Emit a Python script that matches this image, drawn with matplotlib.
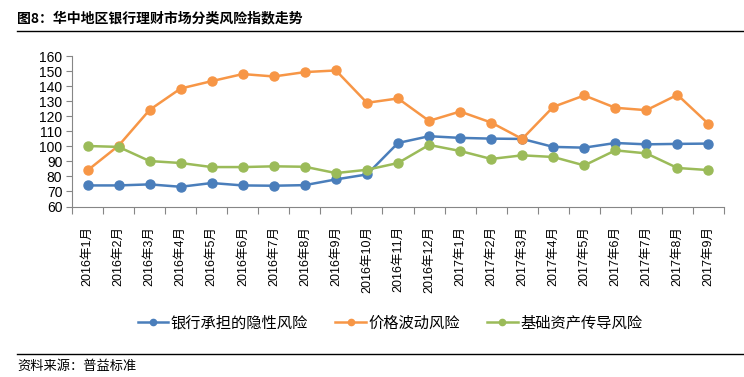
"""Redraw of figure 8: central-China bank WMP risk index trends."""
import matplotlib

matplotlib.use("Agg")
import matplotlib.pyplot as plt
from matplotlib.lines import Line2D

plt.rcParams["font.family"] = ["Liberation Sans", "Noto Sans CJK SC", "DejaVu Sans"]

MONTHS = [
    "2016年1月", "2016年2月", "2016年3月", "2016年4月", "2016年5月", "2016年6月",
    "2016年7月", "2016年8月", "2016年9月", "2016年10月", "2016年11月", "2016年12月",
    "2017年1月", "2017年2月", "2017年3月", "2017年4月", "2017年5月", "2017年6月",
    "2017年7月", "2017年8月", "2017年9月",
]
BANK_RISK = [74.0, 74.0, 74.7, 73.1, 75.6, 74.0, 73.8, 74.2, 78.0, 81.3, 102.2,
             106.7, 105.6, 105.1, 104.9, 99.6, 99.1, 102.2, 101.3, 101.6, 101.8]
PRICE_RISK = [84.0, 100.4, 124.2, 138.4, 143.3, 148.0, 146.4, 149.3, 150.4, 128.9, 131.8,
              116.9, 123.1, 115.8, 104.9, 126.2, 133.8, 125.6, 124.0, 134.2, 114.9]
ASSET_RISK = [100.2, 99.6, 90.2, 88.9, 86.2, 86.2, 86.7, 86.4, 82.2, 84.4, 88.9,
              100.9, 96.9, 91.6, 94.0, 92.9, 87.3, 97.3, 95.3, 85.6, 84.2]
SERIES = ["银行承担的隐性风险", "价格波动风险", "基础资产传导风险"]
COLORS = ("#4A7EBB", "#F79646", "#9BBB59")
AXIS_GREY = "#868686"


def main():
    fig = plt.figure(figsize=(7.44, 3.77), dpi=100)
    ax = fig.add_axes([72 / 744, 1 - 206.5 / 377, 652 / 744, 150.5 / 377])

    x = list(range(len(MONTHS)))
    for vals, name, color in zip((BANK_RISK, PRICE_RISK, ASSET_RISK), SERIES, COLORS):
        ax.plot(x, vals, color=color, lw=1.8, marker="o", ms=6.5, label=name, zorder=3)

    ax.set_ylim(60, 160)
    ax.set_yticks(range(60, 161, 10))
    ax.set_xlim(-0.5, len(MONTHS) - 0.5)
    ax.set_xticks(x)
    ax.set_xticklabels(MONTHS, rotation=90, fontsize=9)
    ax.set_xticks([i - 0.5 for i in range(len(MONTHS) + 1)], minor=True)
    ax.tick_params(axis="x", which="major", length=0, pad=14)
    ax.tick_params(axis="x", which="minor", length=5, color=AXIS_GREY, width=0.8)
    ax.tick_params(axis="y", length=4, color=AXIS_GREY, width=0.8, labelsize=10, pad=3)
    for side in ("top", "right"):
        ax.spines[side].set_visible(False)
    for side in ("left", "bottom"):
        ax.spines[side].set_color(AXIS_GREY)
        ax.spines[side].set_linewidth(0.8)

    handles = [Line2D([0], [0], color=c, lw=1.8, marker="o", ms=4.5) for c in COLORS]
    fig.legend(handles, SERIES, loc="center", bbox_to_anchor=(0.524, 1 - 323 / 377),
               ncol=3, frameon=False, handlelength=2.0,
               handletextpad=0.15, columnspacing=1.8,
               prop={"family": ["Noto Sans CJK SC", "DejaVu Sans"], "size": 11})

    fig.text(17 / 744, 1 - 18 / 377, "图8：华中地区银行理财市场分类风险指数走势",
             ha="left", va="center", fontsize=10, fontweight="bold",
             family=["Noto Sans CJK SC", "DejaVu Sans"])
    fig.add_artist(Line2D([17 / 744, 1], [1 - 31 / 377] * 2, color="black", lw=1.0))
    fig.add_artist(Line2D([17 / 744, 1], [1 - 354 / 377] * 2, color="black", lw=1.0))
    fig.text(17 / 744, 1 - 366 / 377, "资料来源：普益标准", ha="left", va="center",
             fontsize=9.5, family=["Noto Sans CJK SC", "DejaVu Sans"])

    fig.savefig("out.png", dpi=100)
    plt.close(fig)


if __name__ == "__main__":
    main()
